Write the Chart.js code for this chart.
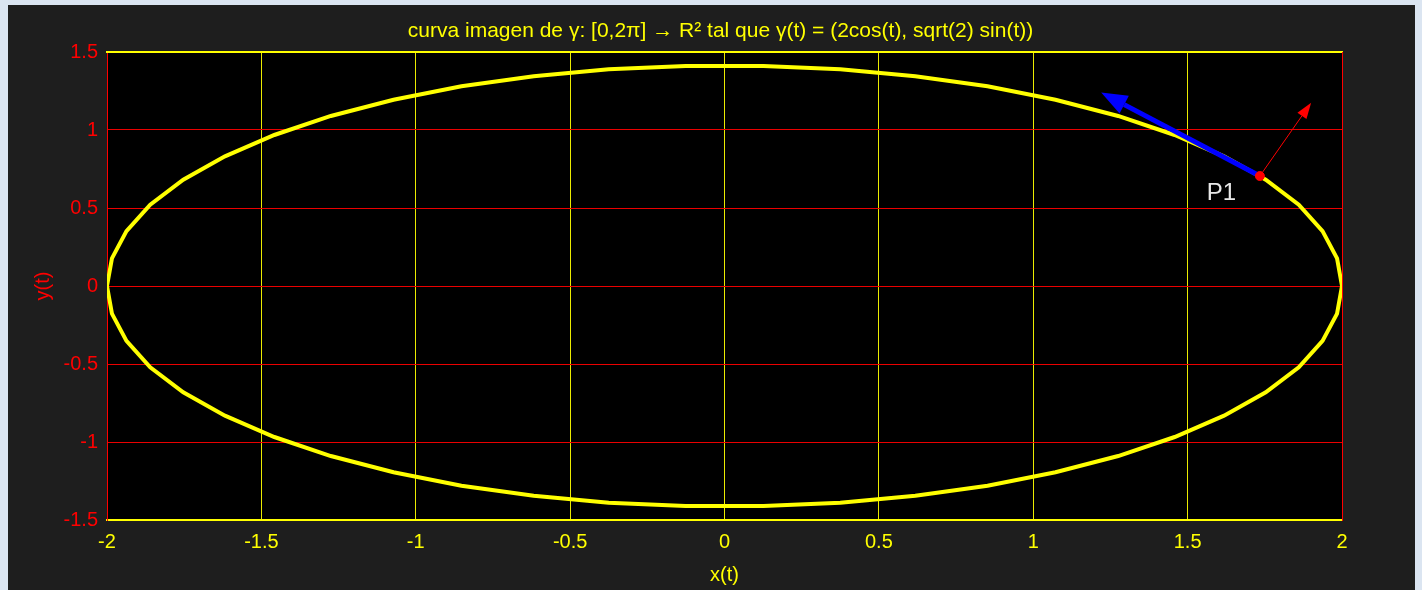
<!DOCTYPE html>
<html>
<head>
<meta charset="utf-8">
<script src="https://cdn.jsdelivr.net/npm/chart.js@4.4.1/dist/chart.umd.min.js"></script>
<style>
  html, body { margin: 0; padding: 0; background: #dbe5f1; overflow: hidden; }
  #panel { position: absolute; left: 8px; top: 5px; width: 1407px; height: 585px; background: #1e1e1e; }
</style>
</head>
<body>
<div id="panel"><canvas id="grafico" width="1407" height="585"></canvas></div>
<script>
// puntos de la curva
const curvaX = [2, 1.984, 1.937, 1.860, 1.753, 1.618, 1.458, 1.275, 1.072, 0.852, 0.618, 0.375, 0.126,
  -0.126, -0.375, -0.618, -0.852, -1.072, -1.275, -1.458, -1.618, -1.753, -1.860, -1.937, -1.984, -2,
  -1.984, -1.937, -1.860, -1.753, -1.618, -1.458, -1.275, -1.072, -0.852, -0.618, -0.375, -0.126,
  0.126, 0.375, 0.618, 0.852, 1.072, 1.275, 1.458, 1.618, 1.753, 1.860, 1.937, 1.984, 2];
const curvaY = [0, 0.177, 0.352, 0.521, 0.681, 0.831, 0.968, 1.090, 1.194, 1.280, 1.345, 1.389, 1.411,
  1.411, 1.389, 1.345, 1.280, 1.194, 1.090, 0.968, 0.831, 0.681, 0.521, 0.352, 0.177, 0,
  -0.177, -0.352, -0.521, -0.681, -0.831, -0.968, -1.090, -1.194, -1.280, -1.345, -1.389, -1.411,
  -1.411, -1.389, -1.345, -1.280, -1.194, -1.090, -0.968, -0.831, -0.681, -0.521, -0.352, -0.177, 0];

const ticksX = [-2, -1.5, -1, -0.5, 0, 0.5, 1, 1.5, 2];
const ticksY = [-1.5, -1, -0.5, 0, 0.5, 1, 1.5];

const puntoP1 = [1.734, 0.705];
const tangenteFin = [1.22, 1.24];
const normalFin = [1.90, 1.175];
const posEtiquetaP1 = [1.562, 0.593];
const etiquetaP1 = 'P1';

const titulo = 'curva imagen de γ: [0,2π] → R² tal que γ(t) = (2cos(t), sqrt(2) sin(t))';

const fuente = '"Liberation Sans", Arial, sans-serif';
const amarillo = '#ffff00';
const rojo = '#ff0000';

const fondoPlot = {
  id: 'fondoPlot',
  beforeDraw(chart) {
    const a = chart.chartArea;
    const ctx = chart.ctx;
    ctx.save();
    ctx.fillStyle = '#000000';
    ctx.fillRect(a.left, a.top, a.right - a.left, a.bottom - a.top);
    ctx.restore();
  }
};

function flecha(ctx, x0, y0, x1, y1, color, ancho, largo, anchoCabeza) {
  const ang = Math.atan2(y1 - y0, x1 - x0);
  const bx = x1 - largo * Math.cos(ang);
  const by = y1 - largo * Math.sin(ang);
  ctx.strokeStyle = color;
  ctx.lineWidth = ancho;
  ctx.beginPath();
  ctx.moveTo(x0, y0);
  ctx.lineTo(bx, by);
  ctx.stroke();
  const px = -Math.sin(ang) * anchoCabeza / 2;
  const py = Math.cos(ang) * anchoCabeza / 2;
  ctx.fillStyle = color;
  ctx.beginPath();
  ctx.moveTo(x1, y1);
  ctx.lineTo(bx + px, by + py);
  ctx.lineTo(bx - px, by - py);
  ctx.closePath();
  ctx.fill();
}

const flechas = {
  id: 'flechas',
  afterDatasetDraw(chart, args) {
    if (args.index !== 0) return;
    const sx = chart.scales.x, sy = chart.scales.y;
    const ctx = chart.ctx;
    const x0 = sx.getPixelForValue(puntoP1[0]), y0 = sy.getPixelForValue(puntoP1[1]);
    ctx.save();
    flecha(ctx, x0, y0, sx.getPixelForValue(tangenteFin[0]), sy.getPixelForValue(tangenteFin[1]), '#0000ff', 5, 26, 20);
    flecha(ctx, x0, y0, sx.getPixelForValue(normalFin[0]), sy.getPixelForValue(normalFin[1]), rojo, 1, 16, 11);
    ctx.fillStyle = '#e8e8e8';
    ctx.font = '24px ' + fuente;
    ctx.textAlign = 'left';
    ctx.textBaseline = 'middle';
    ctx.fillText(etiquetaP1, sx.getPixelForValue(posEtiquetaP1[0]), sy.getPixelForValue(posEtiquetaP1[1]));
    ctx.restore();
  }
};

// titulo algo estrecho, como en el original
const tituloPlugin = {
  id: 'tituloPlugin',
  afterDraw(chart) {
    const a = chart.chartArea;
    const ctx = chart.ctx;
    ctx.save();
    ctx.fillStyle = amarillo;
    ctx.font = '21px ' + fuente;
    ctx.textAlign = 'center';
    ctx.textBaseline = 'middle';
    const w = ctx.measureText(titulo).width;
    const k = Math.min(1, 636 / w);
    ctx.translate((a.left + a.right) / 2 - 4, 26);
    ctx.scale(k, 1);
    ctx.fillText(titulo, 0, 0);
    ctx.restore();
  }
};

new Chart(document.getElementById('grafico'), {
  type: 'scatter',
  data: {
    datasets: [
      {
        data: curvaX.map((x, i) => ({ x: x, y: curvaY[i] })),
        showLine: true,
        borderColor: amarillo,
        borderWidth: 4,
        pointRadius: 0,
        tension: 0,
        order: 2
      },
      {
        data: [{ x: puntoP1[0], y: puntoP1[1] }],
        backgroundColor: rojo,
        borderColor: rojo,
        pointRadius: 4.5,
        order: 1
      }
    ]
  },
  options: {
    responsive: false,
    animation: false,
    devicePixelRatio: 1,
    layout: { padding: 0 },
    plugins: { legend: { display: false }, tooltip: { enabled: false } },
    scales: {
      x: {
        type: 'linear', position: 'bottom', min: -2, max: 2,
        afterBuildTicks: s => { s.ticks = ticksX.map(v => ({ value: v })); },
        afterFit: s => { s.height = 70; },
        ticks: { color: amarillo, font: { family: fuente, size: 20 }, padding: 10, autoSkip: false, maxRotation: 0, callback: v => String(v) },
        grid: { color: 'rgb(235,235,0)', lineWidth: 1, drawTicks: false },
        border: { color: amarillo, width: 2 },
        title: { display: true, text: 'x(t)', color: amarillo, font: { family: fuente, size: 20 }, padding: { top: 0, bottom: 3 } }
      },
      y: {
        type: 'linear', position: 'left', min: -1.5, max: 1.5,
        afterBuildTicks: s => { s.ticks = ticksY.map(v => ({ value: v })); },
        afterFit: s => { s.width = 99; },
        ticks: { color: rojo, font: { family: fuente, size: 20 }, padding: 9, autoSkip: false, callback: v => String(v) },
        grid: { color: 'rgb(235,0,0)', lineWidth: 1, drawTicks: false },
        border: { color: rojo, width: 1 },
        title: { display: true, text: 'y(t)', color: rojo, font: { family: fuente, size: 20 }, padding: { top: 23, bottom: 0 } }
      },
      x2: {
        type: 'linear', position: 'top', min: -2, max: 2,
        afterFit: s => { s.height = 47; },
        ticks: { display: false },
        grid: { display: false, drawTicks: false },
        border: { color: amarillo, width: 2 }
      },
      y2: {
        type: 'linear', position: 'right', min: -1.5, max: 1.5,
        afterFit: s => { s.width = 73; },
        ticks: { display: false },
        grid: { display: false, drawTicks: false },
        border: { color: rojo, width: 1 }
      }
    }
  },
  plugins: [fondoPlot, flechas, tituloPlugin]
});
</script>
</body>
</html>
